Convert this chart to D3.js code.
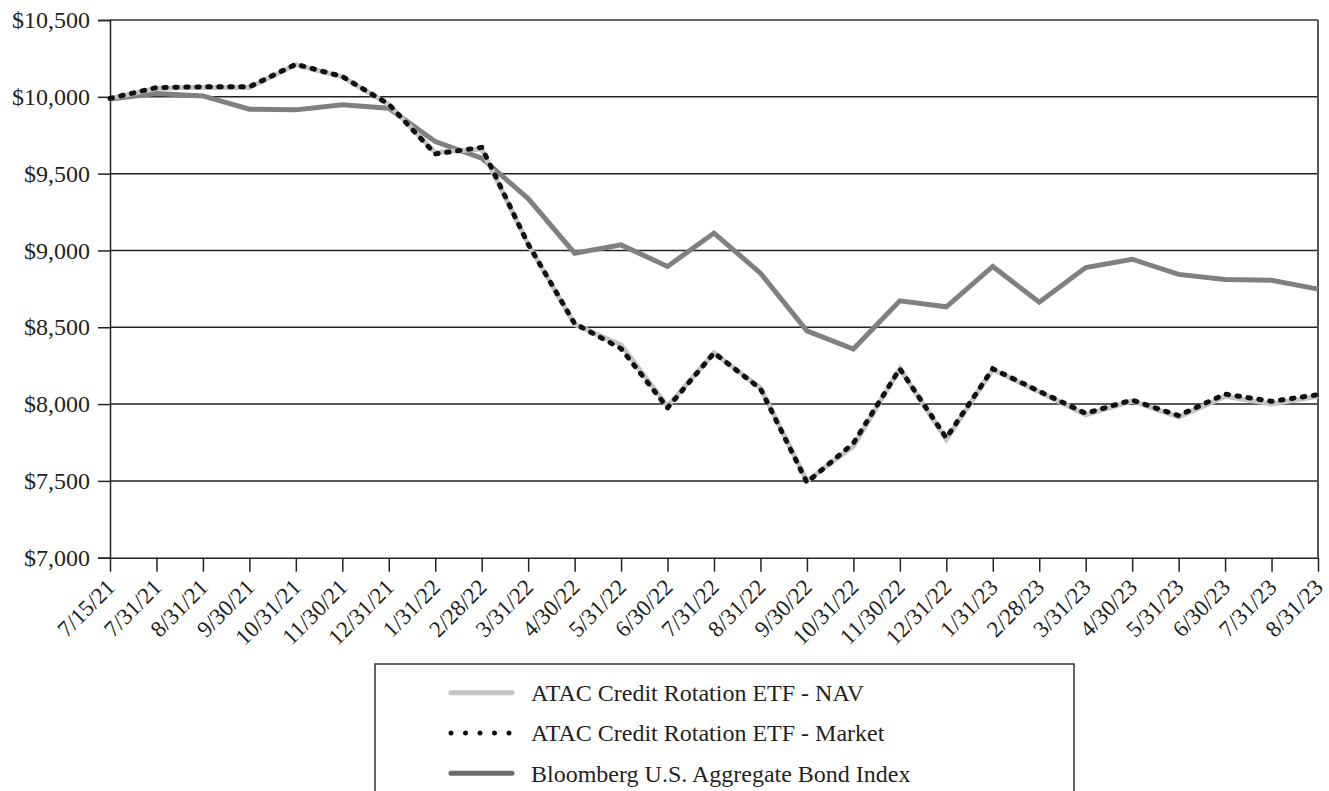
<!DOCTYPE html>
<html>
<head>
<meta charset="utf-8">
<script src="https://cdn.jsdelivr.net/npm/d3@7"></script>
<style>
  body { margin:0; background:#fff; }
  text { font-family:"Liberation Serif","DejaVu Serif",serif; fill:#231f20; }
</style>
</head>
<body>
<script>
var dates = ['7/15/21','7/31/21','8/31/21','9/30/21','10/31/21','11/30/21','12/31/21',
  '1/31/22','2/28/22','3/31/22','4/30/22','5/31/22','6/30/22','7/31/22','8/31/22','9/30/22',
  '10/31/22','11/30/22','12/31/22','1/31/23','2/28/23','3/31/23','4/30/23','5/31/23',
  '6/30/23','7/31/23','8/31/23'];

var navValues = [9990,10055,10062,10060,10210,10130,9950,9638,9660,9040,8520,8385,7985,8333,8105,7500,
  7725,8230,7770,8225,8080,7930,8020,7915,8050,8000,8050];
var marketValues = [9990,10060,10065,10065,10212,10132,9952,9628,9671,9041,8524,8361,7975,8333,8100,7490,
  7745,8230,7780,8230,8083,7940,8026,7925,8065,8018,8061];
var bondValues = [9985,10021,10006,9919,9915,9948,9926,9709,9601,9338,8982,9036,8896,9113,8852,8477,
  8358,8672,8633,8896,8663,8889,8943,8844,8811,8806,8748];

var yTicks = [7000,7500,8000,8500,9000,9500,10000,10500];

var seriesNames = ['ATAC Credit Rotation ETF - NAV','ATAC Credit Rotation ETF - Market','Bloomberg U.S. Aggregate Bond Index'];

var svgW = 1329, svgH = 791, plotL = 110, plotR = 1318, plotT = 20, plotB = 557.7;

var svg = d3.select('body').append('svg').attr('width', svgW).attr('height', svgH);

var x = d3.scalePoint().domain(dates).range([plotL, plotR]);
var y = d3.scaleLinear().domain([7000, 10500]).range([plotB, plotT]);

// gridlines
svg.append('g').attr('class','grid')
  .selectAll('line').data(yTicks.filter(function(d){ return d > 7000 && d < 10500; })).enter().append('line')
  .attr('x1', plotL).attr('x2', plotR)
  .attr('y1', function(d){ return y(d); }).attr('y2', function(d){ return y(d); })
  .attr('stroke', '#222').attr('stroke-width', 1.5);

// frame top + right
svg.append('line').attr('x1', plotL).attr('x2', plotR).attr('y1', y(10500)).attr('y2', y(10500))
  .attr('stroke', '#666').attr('stroke-width', 2);
svg.append('line').attr('x1', plotR).attr('x2', plotR).attr('y1', y(10500)).attr('y2', y(7000))
  .attr('stroke', '#555').attr('stroke-width', 2);

// y axis
var yAxis = svg.append('g').attr('transform', 'translate(' + plotL + ',0)')
  .call(d3.axisLeft(y).tickValues(yTicks).tickSize(12).tickPadding(8).tickFormat(d3.format('$,')));
yAxis.select('.domain').attr('stroke', '#222').attr('stroke-width', 1.5);
yAxis.selectAll('.tick line').attr('stroke', '#222').attr('stroke-width', 1.5);
yAxis.selectAll('.tick text').attr('font-size', 24).attr('fill', '#231f20')
  .attr('font-family', '"Liberation Serif",serif');

// x axis
var xAxis = svg.append('g').attr('transform', 'translate(0,' + plotB + ')')
  .call(d3.axisBottom(x).tickSize(14).tickSizeOuter(0));
xAxis.select('.domain').attr('stroke', '#222').attr('stroke-width', 1.5);
xAxis.selectAll('.tick line').attr('stroke', '#222').attr('stroke-width', 1.5);
xAxis.selectAll('.tick text')
  .attr('font-size', 23).attr('fill', '#231f20').attr('font-family', '"Liberation Serif",serif')
  .attr('text-anchor', 'end').attr('y', 0).attr('dy', 0)
  .attr('transform', 'translate(6,31) rotate(-45)');

// lines
var line = function(vals){
  return d3.line().x(function(d, i){ return x(dates[i]); }).y(function(d){ return y(d); })(vals);
};

svg.append('path').attr('d', line(bondValues)).attr('fill', 'none')
  .attr('stroke', '#808080').attr('stroke-width', 5);
svg.append('path').attr('d', line(navValues)).attr('fill', 'none')
  .attr('stroke', '#c4c4c4').attr('stroke-width', 5);
svg.append('path').attr('d', line(marketValues)).attr('fill', 'none')
  .attr('stroke', '#111').attr('stroke-width', 5)
  .attr('stroke-dasharray', '2.5 8.5').attr('stroke-linecap', 'round');

// legend
var legend = svg.append('g');
legend.append('rect').attr('x', 375).attr('y', 664).attr('width', 699).attr('height', 200)
  .attr('fill', 'none').attr('stroke', '#333').attr('stroke-width', 1.5);

var legStyles = [
  {stroke:'#c4c4c4', dash:null, cap:'round'},
  {stroke:'#111', dash:'0 14.5', cap:'round'},
  {stroke:'#6e6e6e', dash:null, cap:'round'}
];
var items = legend.selectAll('.item').data(seriesNames).enter().append('g')
  .attr('class', 'item')
  .attr('transform', function(d, i){ return 'translate(0,' + (692.7 + i * 40.3) + ')'; });
items.append('line').attr('x1', 451).attr('x2', 512).attr('y1', 0).attr('y2', 0)
  .attr('stroke', function(d, i){ return legStyles[i].stroke; })
  .attr('stroke-width', 5)
  .attr('stroke-linecap', function(d, i){ return legStyles[i].cap; })
  .attr('stroke-dasharray', function(d, i){ return legStyles[i].dash; });
items.append('text').attr('x', 531).attr('y', 0).attr('dy', '0.35em')
  .attr('font-size', 24).text(function(d){ return d; });
</script>
</body>
</html>
